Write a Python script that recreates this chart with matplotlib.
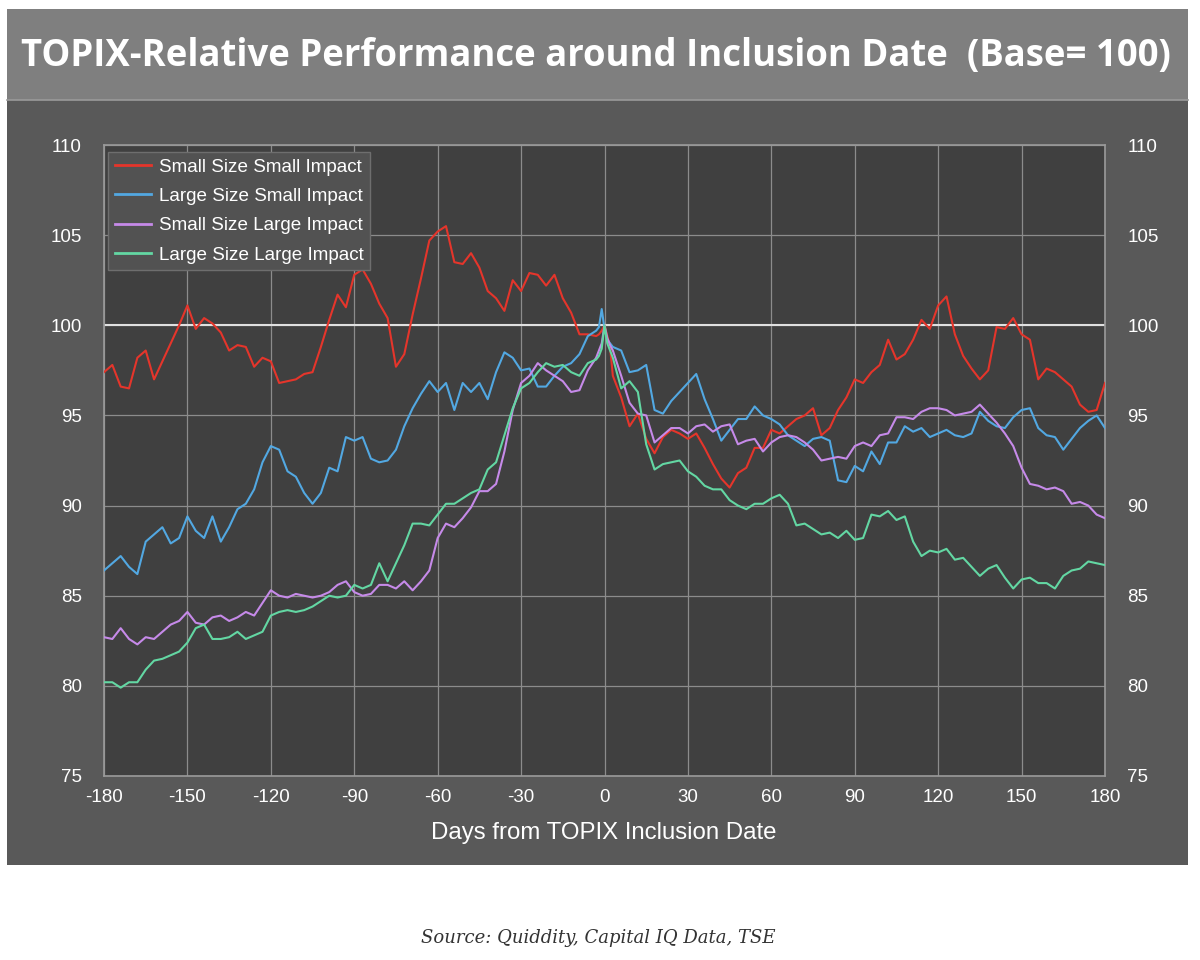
import matplotlib
matplotlib.use("Agg")
import matplotlib.pyplot as plt
from matplotlib.patches import Rectangle
import numpy as np

# ---- data ----
days = list(range(-180, -2, 3)) + [-2, -1, 0, 1, 2] + list(range(3, 181, 3))

small_size_small_impact = [
    97.4, 97.8, 96.6, 96.5, 98.2, 98.6, 97.0, 98.0, 99.0, 100.0, 101.1, 99.8, 100.4, 100.1, 99.6, 98.6,
    98.9, 98.8, 97.7, 98.2, 98.0, 96.8, 96.9, 97.0, 97.3, 97.4, 98.8, 100.3, 101.7, 101.0, 102.8,
    103.1, 102.3, 101.2, 100.4, 97.7, 98.4, 100.6, 102.6, 104.7, 105.2, 105.5, 103.5, 103.4, 104.0, 103.2,
    101.9, 101.5, 100.8, 102.5, 101.9, 102.9, 102.8, 102.2, 102.8, 101.5, 100.7, 99.5, 99.5, 99.4,
    99.5, 99.7, 100.0, 99.4, 98.8,
    97.2, 96.0, 94.4, 95.1, 93.7, 92.9, 93.8, 94.2, 94.0, 93.7, 94.0, 93.2, 92.3, 91.5, 91.0, 91.8,
    92.1, 93.2, 93.2, 94.2, 94.0, 94.4, 94.8, 95.0, 95.4, 93.9, 94.3, 95.3, 96.0, 97.0,
    96.8, 97.4, 97.8, 99.2, 98.1, 98.4, 99.2, 100.3, 99.8, 101.1, 101.6, 99.5, 98.3, 97.6, 97.0, 97.5,
    99.9, 99.8, 100.4, 99.5, 99.2, 97.0, 97.6, 97.4, 97.0, 96.6, 95.6, 95.2, 95.3, 96.8,
]

large_size_small_impact = [
    86.4, 86.8, 87.2, 86.6, 86.2, 88.0, 88.4, 88.8, 87.9, 88.2, 89.4, 88.6, 88.2, 89.4, 88.0, 88.8,
    89.8, 90.1, 90.9, 92.4, 93.3, 93.1, 91.9, 91.6, 90.7, 90.1, 90.7, 92.1, 91.9, 93.8, 93.6,
    93.8, 92.6, 92.4, 92.5, 93.1, 94.4, 95.4, 96.2, 96.9, 96.3, 96.8, 95.3, 96.8, 96.3, 96.8,
    95.9, 97.4, 98.5, 98.2, 97.5, 97.6, 96.6, 96.6, 97.2, 97.7, 97.9, 98.4, 99.4, 99.7,
    99.9, 100.9, 99.8, 99.2, 99.0,
    98.8, 98.6, 97.4, 97.5, 97.8, 95.3, 95.1, 95.8, 96.3, 96.8, 97.3, 95.9, 94.8, 93.6, 94.2, 94.8,
    94.8, 95.5, 95.0, 94.8, 94.5, 93.9, 93.6, 93.3, 93.7, 93.8, 93.6, 91.4, 91.3, 92.2,
    91.9, 93.0, 92.3, 93.5, 93.5, 94.4, 94.1, 94.3, 93.8, 94.0, 94.2, 93.9, 93.8, 94.0, 95.2, 94.7,
    94.4, 94.3, 94.9, 95.3, 95.4, 94.3, 93.9, 93.8, 93.1, 93.7, 94.3, 94.7, 95.0, 94.3,
]

small_size_large_impact = [
    82.7, 82.6, 83.2, 82.6, 82.3, 82.7, 82.6, 83.0, 83.4, 83.6, 84.1, 83.5, 83.4, 83.8, 83.9, 83.6,
    83.8, 84.1, 83.9, 84.6, 85.3, 85.0, 84.9, 85.1, 85.0, 84.9, 85.0, 85.2, 85.6, 85.8, 85.2,
    85.0, 85.1, 85.6, 85.6, 85.4, 85.8, 85.3, 85.8, 86.4, 88.2, 89.0, 88.8, 89.3, 89.9, 90.8,
    90.8, 91.2, 93.0, 95.3, 96.8, 97.2, 97.9, 97.5, 97.2, 96.9, 96.3, 96.4, 97.5, 98.2,
    98.6, 99.0, 100.0, 99.3, 98.9,
    98.6, 97.2, 95.7, 95.1, 95.0, 93.5, 93.9, 94.3, 94.3, 94.0, 94.4, 94.5, 94.1, 94.4, 94.5, 93.4,
    93.6, 93.7, 93.0, 93.5, 93.8, 93.9, 93.8, 93.5, 93.1, 92.5, 92.6, 92.7, 92.6, 93.3,
    93.5, 93.3, 93.9, 94.0, 94.9, 94.9, 94.8, 95.2, 95.4, 95.4, 95.3, 95.0, 95.1, 95.2, 95.6, 95.1,
    94.6, 94.0, 93.3, 92.1, 91.2, 91.1, 90.9, 91.0, 90.8, 90.1, 90.2, 90.0, 89.5, 89.3,
]

large_size_large_impact = [
    80.2, 80.2, 79.9, 80.2, 80.2, 80.9, 81.4, 81.5, 81.7, 81.9, 82.4, 83.2, 83.4, 82.6, 82.6, 82.7,
    83.0, 82.6, 82.8, 83.0, 83.9, 84.1, 84.2, 84.1, 84.2, 84.4, 84.7, 85.0, 84.9, 85.0, 85.6,
    85.4, 85.6, 86.8, 85.8, 86.8, 87.8, 89.0, 89.0, 88.9, 89.5, 90.1, 90.1, 90.4, 90.7, 90.9,
    92.0, 92.4, 93.9, 95.4, 96.5, 96.8, 97.4, 97.9, 97.7, 97.8, 97.4, 97.2, 97.9, 98.1,
    98.3, 98.7, 100.0, 99.0, 98.6,
    98.2, 96.5, 96.9, 96.3, 93.4, 92.0, 92.3, 92.4, 92.5, 91.9, 91.6, 91.1, 90.9, 90.9, 90.3, 90.0,
    89.8, 90.1, 90.1, 90.4, 90.6, 90.1, 88.9, 89.0, 88.7, 88.4, 88.5, 88.2, 88.6, 88.1,
    88.2, 89.5, 89.4, 89.7, 89.2, 89.4, 88.0, 87.2, 87.5, 87.4, 87.6, 87.0, 87.1, 86.6, 86.1, 86.5,
    86.7, 86.0, 85.4, 85.9, 86.0, 85.7, 85.7, 85.4, 86.1, 86.4, 86.5, 86.9, 86.8, 86.7,
]

series_names = ["Small Size Small Impact", "Large Size Small Impact",
                "Small Size Large Impact", "Large Size Large Impact"]
series_values = [small_size_small_impact, large_size_small_impact,
                 small_size_large_impact, large_size_large_impact]
series_colors = ["#e5352b", "#52a8e2", "#c68ae9", "#63d7a3"]

x_ticks = list(range(-180, 181, 30))
y_ticks = [75, 80, 85, 90, 95, 100, 105, 110]

title = "TOPIX-Relative Performance around Inclusion Date  (Base= 100)"
x_label = "Days from TOPIX Inclusion Date"
source = "Source: Quiddity, Capital IQ Data, TSE"

# ---- figure ----
W, H = 1200, 960
fig = plt.figure(figsize=(W / 100, H / 100), dpi=100, facecolor="white")

def fx(px):
    return px / W

def fy(py):
    return 1 - py / H

# title bar and dark panel (behind the axes)
fig.patches.append(Rectangle((fx(7), fy(100)), fx(1188) - fx(7), fy(9) - fy(100),
                             transform=fig.transFigure, facecolor="#7f7f7f",
                             edgecolor="none", zorder=-10))
fig.patches.append(Rectangle((fx(7), fy(865)), fx(1188) - fx(7), fy(100) - fy(865),
                             transform=fig.transFigure, facecolor="#595959",
                             edgecolor="none", zorder=-10))
fig.lines.append(plt.Line2D([fx(7), fx(1188)], [fy(100), fy(100)],
                            transform=fig.transFigure, color="#9a9a9a", lw=1.2, zorder=-9))

fig.text(fx(596), fy(56), title, ha="center", va="center", color="white",
         fontsize=26.3, fontweight="bold", family="Open Sans")

ax = fig.add_axes([fx(104), fy(776), fx(1105) - fx(104), fy(145) - fy(776)])
ax.set_zorder(1)
ax.set_facecolor("#404040")

for name, vals, col in zip(series_names, series_values, series_colors):
    ax.plot(days, vals, color=col, lw=1.5, label=name, zorder=3)

ax.set_xlim(-180, 180)
ax.set_ylim(75, 110)
ax.set_xticks(x_ticks)
ax.set_xticklabels([str(t) for t in x_ticks])
ax.set_yticks(y_ticks)
ax.set_yticklabels([str(t) for t in y_ticks])
ax.grid(True, color="#8c8c8c", lw=0.9, zorder=1)
ax.axhline(100, color="#e0e0e0", lw=1.5, zorder=2)
for s in ax.spines.values():
    s.set_color("#9a9a9a")
    s.set_linewidth(1.2)

ax.tick_params(axis="both", length=0, labelcolor="white", labelsize=13.5)
ax.tick_params(axis="x", pad=9)
ax.tick_params(axis="y", pad=16, labelright=True, right=False, labelleft=True)
for lab in ax.get_xticklabels() + ax.get_yticklabels():
    lab.set_family("Liberation Sans")
for t in ax.yaxis.get_major_ticks():
    t.label2.set_family("Liberation Sans")

fig.text(fx(604), fy(833), x_label, ha="center", va="center", color="white",
         fontsize=17.3, family="Liberation Sans")

leg = ax.legend(loc="upper left", bbox_to_anchor=(0.004, 0.989), borderaxespad=0,
                frameon=True, fancybox=False, facecolor="#525252", edgecolor="#6e6e6e",
                framealpha=1, labelcolor="white", handlelength=1.9, handletextpad=0.45,
                labelspacing=0.64, borderpad=0.35,
                prop={"family": "Liberation Sans", "size": 13.6})
leg.get_frame().set_linewidth(1.0)
for l in leg.get_lines():
    l.set_linewidth(2)

fig.text(fx(598), fy(938), source, ha="center", va="center", color="#333333",
         fontsize=13, style="italic", family="DejaVu Serif")

fig.savefig("out.png", dpi=100, facecolor="white")
